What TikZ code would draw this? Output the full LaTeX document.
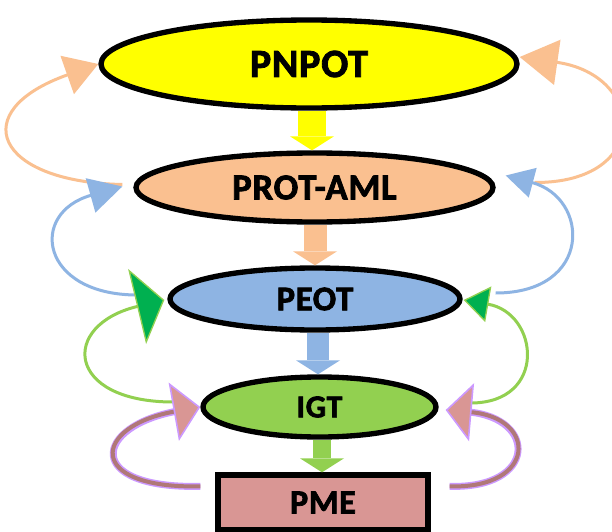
\documentclass[tikz,border=0pt]{standalone}
\usepackage{fontspec}
\setmainfont{Carlito}[BoldFeatures={FakeBold=2,LetterSpace=2}]
\usetikzlibrary{shapes.geometric,arrows.meta,calc}
\definecolor{cyellow}{HTML}{FFFF00}
\definecolor{cpeach}{HTML}{FAC090}
\definecolor{cblue}{HTML}{8EB4E3}
\definecolor{clgreen}{HTML}{92D050}
\definecolor{cdgreen}{HTML}{00B050}
\definecolor{cpink}{HTML}{D99694}
\definecolor{cpurple}{HTML}{CC99FF}
\definecolor{cbrown}{HTML}{B07878}
\begin{document}
\begin{tikzpicture}[x=0.75pt,y=-0.75pt,
  oval/.style={ellipse, draw=black, line width=4pt, inner sep=0pt},
  blockarr/.style={line width=#1, -{Triangle[width=33pt,length=10.5pt,line width=0pt]}},
  loopline/.style={line width=2.25pt},
  pinkback/.style={cpurple, line width=5.2pt},
  pinkfront/.style={cbrown, line width=3pt},
]
\clip (0,0) rectangle (612,532);
\fill[white] (0,0) rectangle (612,532);

% nodes
\node[oval, fill=cyellow, minimum width=312pt, minimum height=66pt,
      font=\bfseries\fontsize{30}{36}\selectfont] (PNPOT) at (309,64) {PNPOT};
\node[oval, fill=cpeach, minimum width=267.75pt, minimum height=51.75pt,
      font=\bfseries\fontsize{27.5}{32}\selectfont] (PROT) at (314.5,187.5) {PROT-AML};
\node[oval, fill=cblue, minimum width=217.5pt, minimum height=46.5pt,
      font=\bfseries\fontsize{26}{31}\selectfont] (PEOT) at (315,299) {PEOT};
\node[oval, fill=clgreen, minimum width=174.75pt, minimum height=45pt,
      font=\bfseries\fontsize{24}{29}\selectfont] (IGT) at (319.5,407) {IGT};
\node[rectangle, draw=black, line width=4pt, fill=cpink, inner sep=0pt,
      minimum width=157.5pt, minimum height=41.25pt,
      font=\bfseries\fontsize{25.5}{30}\selectfont] (PME) at (323,502.5) {PME};

% block arrows
\coordinate (c1) at (312,0);
\coordinate (c2) at (315,0);
\coordinate (c3) at (318,0);
\coordinate (c4) at (322,0);
\draw[blockarr=21pt, cyellow] (PNPOT.south -| c1) -- (PROT.north -| c1);
\draw[blockarr=17.25pt, cpeach] (PROT.south -| c2) -- (PEOT.north -| c2);
\draw[blockarr=17pt, cblue] (PEOT.south -| c3) -- (IGT.north -| c3);
\draw[blockarr=14pt, clgreen] (IGT.south -| c4) -- (PME.north -| c4);

% left loops
\draw[loopline, cpeach, -{Triangle[width=30pt,length=24.75pt]}]
  ($(PROT.west)+(-11,-3)$) .. controls (-5,182) and (-35,111) .. (PNPOT.west);
\draw[loopline, cblue, -{Triangle[width=26.25pt,length=24.75pt]}]
  ($(PEOT.west)+(-30,-4)$) .. controls (40,295) and (28,213) .. ($(PROT.west)+(-11,-1)$);
\draw[loopline, clgreen, -{Triangle[width=57.75pt,length=21pt,fill=cdgreen,color=clgreen,line width=1pt]}]
  ($(IGT.west)+(-27,-5)$) .. controls (65,402) and (60,325) .. ($(PEOT.west)+(-3,1)$);
\draw[pinkback, shorten >=17pt]
  ($(PME.north west)+(-15,14)$) .. controls (83,489) and (93,426) .. (IGT.west);
\draw[pinkfront, -{Triangle[width=44.25pt,length=20.25pt,fill=cpink,color=cpurple,line width=1.2pt]}]
  ($(PME.north west)+(-15,14)$) .. controls (83,489) and (93,426) .. (IGT.west);

% right loops
\draw[loopline, cpeach, -{Triangle[width=33.75pt,length=28.5pt]}]
  ($(PROT.east)+(39,-5)$) .. controls (652,183) and (646,75) .. ($(PNPOT.east)+(0,-7)$);
\draw[loopline, cblue, -{Triangle[width=22.5pt,length=21pt]}]
  ($(PEOT.east)+(33,-6)$) .. controls (593,293) and (590,198) .. ($(PROT.east)+(10,-12)$);
\draw[loopline, clgreen, -{Triangle[width=27pt,length=18.75pt,fill=cdgreen,color=clgreen,line width=1pt]}]
  ($(IGT.east)+(32,-4)$) .. controls (548,403) and (539,313) .. ($(PEOT.east)+(1,1)$);
\draw[pinkback, shorten >=17pt]
  ($(PME.north east)+(19,14)$) .. controls (537,489) and (538,418) .. ($(IGT.east)+(7,3)$);
\draw[pinkfront, -{Triangle[width=43.5pt,length=19.5pt,fill=cpink,color=cpurple,line width=1.2pt]}]
  ($(PME.north east)+(19,14)$) .. controls (537,489) and (538,418) .. ($(IGT.east)+(7,3)$);
\end{tikzpicture}
\end{document}
